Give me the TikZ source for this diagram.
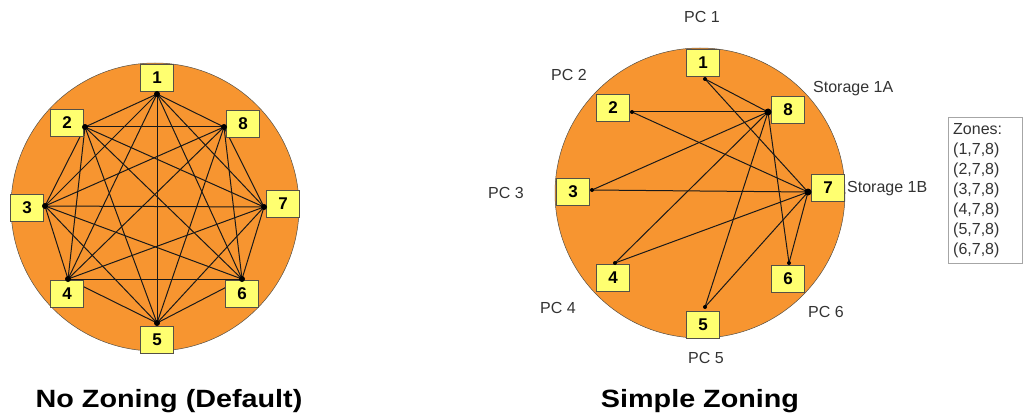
\documentclass[tikz,border=0pt]{standalone}
\usepackage{fontspec}
\setmainfont{Liberation Sans}
\usepackage{tikz}
\definecolor{fabricorange}{RGB}{247,149,48}
\definecolor{portyellow}{RGB}{255,255,112}
\definecolor{edgegray}{RGB}{85,80,70}
\tikzset{
    port/.style={draw=edgegray, fill=portyellow, minimum width=33pt, minimum height=27pt,
        inner sep=0pt, line width=0.7pt, font=\fontsize{17}{17}\selectfont\bfseries},
    link/.style={black!90, line width=1pt}
}

\begin{document}
\begin{tikzpicture}[x=1pt, y=-1pt,
            tag/.style={font=\fontsize{16}{16}\selectfont, text=black!80, inner sep=0pt},
            caption/.style={font=\fontsize{25}{25}\selectfont\bfseries, xscale=1.15, anchor=base}
        ]
        \useasboundingbox (0,0) rectangle (1025,417);
        % no zoning: every port sees every port
        \fill[fabricorange, draw=edgegray, line width=0.5pt] (155,207) circle (144pt);
        \foreach \n/\x/\y in {1/157/94, 2/85/127, 3/45/206, 4/68/279, 5/157/323, 6/242/279, 7/264/207, 8/224/127}
            \coordinate (L\n) at (\x,\y);
        \foreach \a in {1,...,8}
            \foreach \b in {1,...,8}
                {\ifnum\a<\b \draw[link] (L\a) -- (L\b); \fi}
        \foreach \n/\x/\y in {1/157/78, 2/67/123, 3/27/208, 4/67/294, 5/157/340, 6/242/294, 7/283/204, 8/243/124}
            \node[port] (lb\n) at (\x,\y) {\n};
        \foreach \n in {1,...,8}
            \fill (L\n) circle (3pt);
        \node[caption] (nozone) at (169,407) {No Zoning (Default)};

        % simple zoning: the two storage ports against each pc
        \fill[fabricorange, draw=edgegray, line width=0.5pt] (700,193) circle (145pt);
        \foreach \n/\x/\y in {1/705/79, 2/632/112, 3/592/190, 4/615/263, 5/705/307, 6/789/263, 7/808/192, 8/768/112}
            \coordinate (R\n) at (\x,\y);
        \foreach \h in {7,8}
            \foreach \p in {1,...,6}
                \draw[link] (R\h) -- (R\p);
        \foreach \n/\x/\y in {1/703/63, 2/613/108, 3/573/192, 4/613/278, 5/703/325, 6/788/279, 7/828/188, 8/788/110}
            \node[port] (rb\n) at (\x,\y) {\n};
        \foreach \n in {1,...,6}
            \fill (R\n) circle (2pt);
        \fill (R7) circle (3.5pt);
        \fill (R8) circle (3.5pt);
        \node[tag] (pc1) at (702,17) {PC 1};
        \node[tag] (pc2) at (569,75) {PC 2};
        \node[tag] (pc3) at (506,193) {PC 3};
        \node[tag] (pc4) at (558,308) {PC 4};
        \node[tag] (pc5) at (706,358) {PC 5};
        \node[tag] (pc6) at (826,312) {PC 6};
        \node[tag, anchor=west] (stA) at (813,89) {Storage 1A};
        \node[tag, anchor=west] (stB) at (847,189) {Storage 1B};
        \node[draw=black!35, fill=white, anchor=north west, align=left, text width=64pt,
            inner xsep=5pt, inner ysep=6pt, font=\fontsize{16}{20}\selectfont, text=black!80]
            (zones) at (948,117) {Zones:\\(1,7,8)\\(2,7,8)\\(3,7,8)\\(4,7,8)\\(5,7,8)\\(6,7,8)};
        \node[caption] (simple) at (700,407) {Simple Zoning};
    \end{tikzpicture}
\end{document}
